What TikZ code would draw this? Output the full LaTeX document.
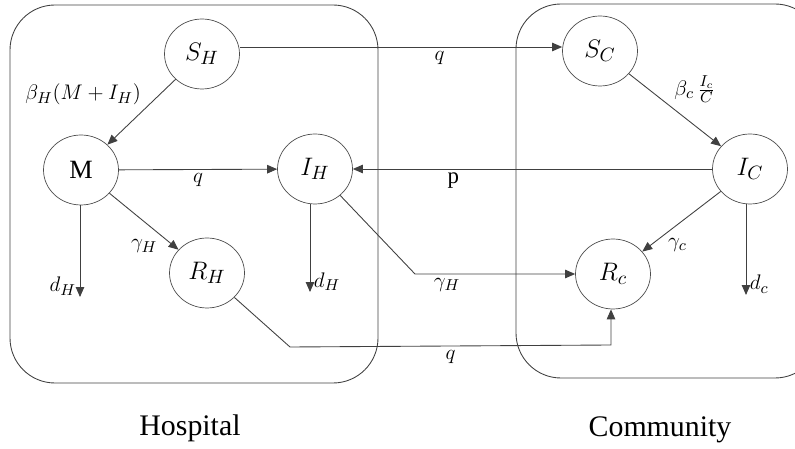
\documentclass[tikz,border=0pt]{standalone}
\usepackage{fontspec}
\setmainfont{Liberation Serif}
\usetikzlibrary{arrows.meta,shapes.geometric}

\begin{document}
\begin{tikzpicture}[
  x=0.02cm, y=-0.02cm,
  state/.style={draw=black!70,ellipse,minimum width=1.5cm,minimum height=1.4cm,inner sep=0pt,font=\fontsize{15}{17}\selectfont},
  region/.style={draw=black!75,line width=0.5pt,rounded corners=0.9cm},
  arr/.style={-{Triangle[length=2mm,width=1.7mm]},draw=black!75,line width=0.5pt},
  lbl/.style={font=\fontsize{13}{15}\selectfont,inner sep=2pt},
  title/.style={font=\fontsize{17}{20}\selectfont}
]
\useasboundingbox (0,0) rectangle (795,449);
% compartments
\draw[region] (10,5) rectangle (378,383);
\draw[region] (516,4) rectangle (820,378);
% hospital states
\node[state] (SH) at (202,54) {$S_H$};
\node[state] (M) at (81,170) {M};
\node[state] (IH) at (315,169) {$I_H$};
\node[state] (RH) at (207,273) {$R_H$};
% community states
\node[state] (SC) at (600,51) {$S_C$};
\node[state] (IC) at (750,169) {$I_C$};
\node[state] (RC) at (613,274) {$R_c$};
% free ends and bends
\coordinate (dM) at (80,297);
\coordinate (dI) at (310,292);
\coordinate (dC) at (746,295);
\coordinate (b1) at (415,274);
\coordinate (b2) at (290,347);
\coordinate (b3) at (611,345);
% flows
\draw[arr] (SH.east |- 0,47) -- node[lbl,below,pos=0.62] {$q$} (SC.west |- 0,47);
\draw[arr] (SH) -- node[lbl,above left,pos=0.45] {$\beta_H(M+I_H)$} (M);
\draw[arr] (M) -- node[lbl,below] {$q$} (IH);
\draw[arr] (IC) -- node[lbl,below,pos=0.72] {p} (IH);
\draw[arr] (SC) -- node[lbl,above right,pos=0.45] {$\beta_c\,\frac{I_c}{C}$} (IC);
\draw[arr] (M.south -| dM) -- node[lbl,left,pos=0.88] {$d_H$} (dM);
\draw[arr] (M) -- node[lbl,below left,pos=0.75] {$\gamma_H$} (RH);
\draw[arr] (IH.south -| dI) -- node[lbl,right,pos=0.88] {$d_H$} (dI);
\draw[arr] (IH) -- (b1) -- node[lbl,below,pos=0.2] {$\gamma_H$} (RC);
\draw[arr] (RH) -- (b2) -- node[lbl,below,pos=0.5] {$q$} (b3) -- (RC.south -| b3);
\draw[arr] (IC) -- node[lbl,below right,pos=0.72] {$\gamma_c$} (RC);
\draw[arr] (IC.south -| dC) -- node[lbl,right,pos=0.88] {$d_c$} (dC);
% titles
\node[title] (hosp) at (190,428) {Hospital};
\node[title] (comm) at (660,430) {Community};
\end{tikzpicture}
\end{document}
